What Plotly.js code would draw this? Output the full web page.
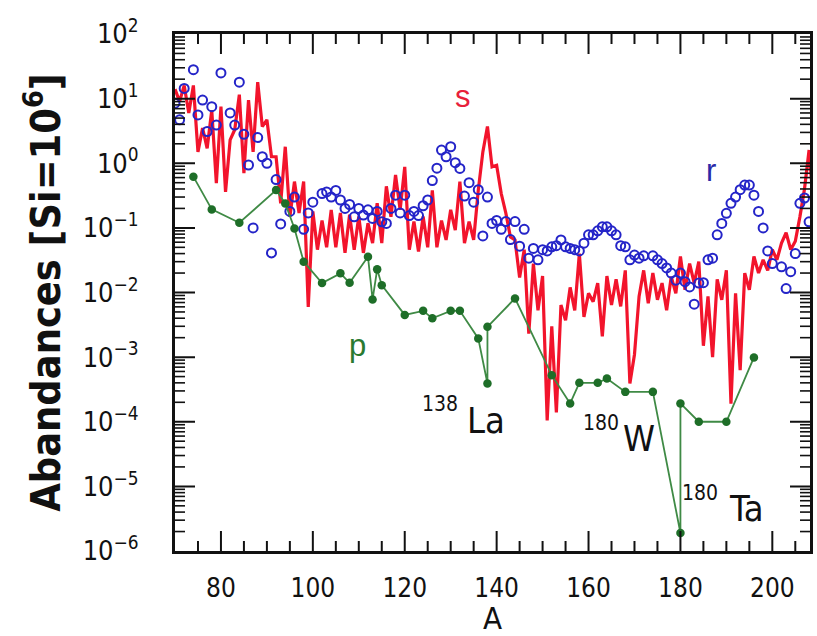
<!DOCTYPE html>
<html>
<head>
<meta charset="utf-8">
<script src="https://cdn.plot.ly/plotly-3.0.1.min.js"></script>
<style>
  html, body { margin: 0; padding: 0; background: #ffffff; }
  #chart { width: 817px; height: 636px; }
</style>
</head>
<body>
<div id="chart"></div>
<script>
// ---- s-process (red line): mass number A and abundance ----
const sA = [70,71,72,73,74,75,76,77,78,79,80,81,82,83,84,85,86,87,88,89,
            90,91,92,93,94,95,96,97,98,99,100,101,102,103,104,105,106,107,108,109,
            110,111,112,113,114,115,116,117,118,119,120,121,122,123,124,125,126,127,128,129,
            130,131,132,133,134,135,136,137,138,139,140,141,142,143,144,145,146,147,148,149,
            150,151,152,153,154,155,156,157,158,159,160,161,162,163,164,165,166,167,168,169,
            170,171,172,173,174,175,176,177,178,179,180,181,182,183,184,185,186,187,188,189,
            190,191,192,193,194,195,196,197,198,199,200,201,202,203,204,205,206,207,208,209];
const sV = [14,9,16,6,16,1.5,3.5,1.7,6.6,0.49,7.5,0.36,2.3,3.3,11.5,0.70,9.5,1.5,18,3.7,
            4.7,1.26,1.26,0.24,1.8,0.148,0.52,0.17,0.52,0.006,0.18,0.046,0.13,0.05,0.19,0.05,0.17,0.041,0.16,0.046,
            0.15,0.041,0.118,0.058,0.24,0.058,0.44,0.148,0.66,0.19,0.88,0.046,0.125,0.043,0.15,0.05,0.38,0.05,0.13,0.065,
            0.19,0.092,0.52,0.058,0.125,0.065,0.38,1.5,3.7,0.88,0.93,0.34,0.17,0.072,0.065,0.017,0.046,0.0023,0.028,0.0053,
            0.018,0.000105,0.003,0.00014,0.0064,0.0037,0.012,0.0053,0.040,0.0042,0.0097,0.0072,0.014,0.0021,0.018,0.0064,0.016,0.0061,0.022,0.00039,
            0.0011,0.0087,0.022,0.0068,0.020,0.0077,0.014,0.0053,0.0175,0.0097,0.036,0.011,0.028,0.014,0.030,0.0015,0.0087,0.001,0.016,0.0077,
            0.022,0.00019,0.0097,0.00063,0.02,0.011,0.036,0.02,0.032,0.022,0.046,0.032,0.058,0.084,0.046,0.062,0.148,0.4,1.6,0.2];

// ---- r-process (blue open circles) ----
const rA = [70,71,72,74,75,76,77,78,79,80,82,83,84,85,86,87,88,89,90,91,92,93,95,96,98,99,100,
            102,103,104,105,106,107,108,109,110,111,112,113,114,115,116,117,118,119,120,121,122,123,124,125,
            126,127,128,129,130,131,132,133,134,135,136,137,138,139,140,141,142,143,144,145,146,147,148,149,150,
            151,152,153,154,155,156,157,158,159,160,161,162,163,164,165,166,167,168,169,170,171,172,174,175,176,
            177,178,179,180,181,182,183,184,185,186,187,188,189,190,191,192,193,194,195,196,197,198,199,200,
            202,203,204,205,206,207,208];
const rV = [8.5,4.7,14.4,28,5.6,9.5,3.1,7.5,3.9,25,6.0,3.9,18,2.8,0.94,0.10,2.5,1.26,1.0,0.041,0.56,0.115,0.18,0.30,0.095,0.17,0.25,
            0.34,0.36,0.30,0.38,0.27,0.20,0.23,0.148,0.20,0.158,0.19,0.14,0.18,0.124,0.117,0.20,0.32,0.17,0.32,0.155,0.18,0.155,0.22,0.27,
            0.54,0.84,1.6,1.26,1.8,1.02,0.83,0.31,0.50,0.25,0.39,0.075,0.30,0.117,0.13,0.095,0.125,0.066,0.125,0.052,0.095,0.034,0.048,0.032,0.046,
            0.044,0.051,0.053,0.065,0.051,0.048,0.046,0.044,0.058,0.078,0.078,0.090,0.104,0.104,0.090,0.078,0.053,0.051,0.032,0.038,0.034,0.037,0.037,0.032,0.028,
            0.024,0.020,0.0155,0.020,0.0147,0.0122,0.0066,0.014,0.0142,0.032,0.034,0.078,0.117,0.168,0.24,0.30,0.39,0.46,0.46,0.32,0.18,0.10,0.044,0.028,
            0.025,0.0115,0.021,0.040,0.24,0.29,0.124];

// ---- p-process (green line + dots) ----
const pA = [74,78,84,92,94,96,98,102,106,108,112,113,114,115,120,124,126,130,132,136,138,138,
            144,152,156,158,162,164,168,174,180,180,184,190,196];
const pV = [0.62,0.193,0.12,0.385,0.239,0.098,0.030,0.014,0.0198,0.0141,0.0357,0.0078,0.0228,0.013,0.0045,0.0052,0.0040,0.0052,0.0052,0.00195,0.00039,0.00294,
            0.0081,0.000526,0.000192,0.00040,0.00040,0.000468,0.00029,0.00029,0.0000019,0.000192,0.00010,0.00010,0.00099];

// ---- axis tick labels ----
const xTickVals = [80,100,120,140,160,180,200];
const xTickText = ['80','100','120','140','160','180','200'];
const yTickVals = [1e-6,1e-5,1e-4,1e-3,1e-2,1e-1,1,10,100];
const yTickText = ['10<sup>\u22126</sup>','10<sup>\u22125</sup>','10<sup>\u22124</sup>','10<sup>\u22123</sup>',
                   '10<sup>\u22122</sup>','10<sup>\u22121</sup>','10<sup>0</sup>','10<sup>1</sup>','10<sup>2</sup>'];

const FONT = 'DejaVu Sans Condensed, Liberation Sans Narrow, Arial Narrow, sans-serif';
const XR = [70, 208.2];
const YR = [-6, 2];

// ---- inside frame ticks: line markers centred on the frame, half clipped by the plot area ----
const MAJ = 20, MIN = 10;                 // visible tick length in px
const SZ = len => len / 0.7;              // line-ns/line-ew symbol length is 1.4*size
const yLo = Math.pow(10, YR[0]), yHi = Math.pow(10, YR[1]);
const xMajT = [], xMinT = [];
for (let v = 75; v <= 205; v += 5) (v % 20 === 0 ? xMajT : xMinT).push(v);
const yMajT = [], yMinT = [];
for (let e = YR[0]; e < YR[1]; e++) {
  if (e > YR[0]) yMajT.push(Math.pow(10, e));
  for (let m = 2; m <= 9; m++) yMinT.push(m * Math.pow(10, e));
}
function xTickTrace(vals, len, w) {
  return { x: vals.concat(vals), y: vals.map(() => yLo).concat(vals.map(() => yHi)),
           type: 'scatter', mode: 'markers', cliponaxis: true, hoverinfo: 'skip',
           marker: { symbol: 'line-ns-open', size: SZ(len), color: '#111111', line: { width: w, color: '#111111' } } };
}
function yTickTrace(vals, len, w) {
  return { x: vals.map(() => XR[0]).concat(vals.map(() => XR[1])), y: vals.concat(vals),
           type: 'scatter', mode: 'markers', cliponaxis: true, hoverinfo: 'skip',
           marker: { symbol: 'line-ew-open', size: SZ(len), color: '#111111', line: { width: w, color: '#111111' } } };
}

const traces = [
  { x: sA, y: sV, type: 'scatter', mode: 'lines',
    line: { color: '#f2142c', width: 3.2 }, hoverinfo: 'skip' },
  { x: rA, y: rV, type: 'scatter', mode: 'markers',
    marker: { symbol: 'circle-open', size: 9, color: '#2424c8', line: { width: 2, color: '#2424c8' } } },
  { x: pA, y: pV, type: 'scatter', mode: 'lines+markers',
    line: { color: '#3f8a45', width: 1.8 },
    marker: { symbol: 'circle', size: 8.5, color: '#1e6e28' } },
  xTickTrace(xMinT, MIN, 2),
  xTickTrace(xMajT, MAJ, 2),
  yTickTrace(yMinT, MIN, 1.6),
  yTickTrace(yMajT, MAJ, 2)
];

function px(x) { return (x - 175) / 635; }
function py(y) { return (551 - y) / 517; }

const ann = [
  { text: 's', x: px(463), y: py(96), font: { size: 31, color: '#e8203a', family: 'Liberation Sans, Arial, sans-serif' } },
  { text: 'r', x: px(711), y: py(170), font: { size: 31, color: '#2a2aa8', family: 'Liberation Sans, Arial, sans-serif' } },
  { text: 'p', x: px(357), y: py(345), font: { size: 31, color: '#2a7a30', family: 'Liberation Sans, Arial, sans-serif' } },
  { text: '138', x: px(440), y: py(404), font: { size: 21, color: '#111', family: FONT } },
  { text: 'La', x: px(486), y: py(420), font: { size: 36, color: '#111', family: FONT } },
  { text: '180', x: px(601), y: py(423), font: { size: 21, color: '#111', family: FONT } },
  { text: 'W', x: px(639), y: py(438), font: { size: 36, color: '#111', family: FONT } },
  { text: '180', x: px(700), y: py(493), font: { size: 21, color: '#111', family: FONT } },
  { text: 'Ta', x: px(746), y: py(508), font: { size: 36, color: '#111', family: FONT } }
].map(a => Object.assign({ xref: 'paper', yref: 'paper', showarrow: false, xanchor: 'center', yanchor: 'middle' }, a));

const layout = {
  width: 817, height: 636,
  margin: { l: 175, r: 7, t: 34, b: 85 },
  paper_bgcolor: '#ffffff', plot_bgcolor: '#ffffff',
  showlegend: false,
  font: { family: FONT, color: '#111' },
  xaxis: {
    range: XR, showgrid: false, zeroline: false,
    showline: true, linecolor: '#111111', linewidth: 3, mirror: true,
    ticks: '', tickmode: 'array', tickvals: xTickVals, ticktext: xTickText,
    tickfont: { size: 26, family: FONT, color: '#111' },
    ticklabelstandoff: 12,
    title: { text: 'A', font: { size: 31, family: FONT, color: '#111' }, standoff: 12 }
  },
  yaxis: {
    type: 'log', range: YR, showgrid: false, zeroline: false,
    showline: true, linecolor: '#111111', linewidth: 3, mirror: true,
    ticks: '', tickmode: 'array', tickvals: yTickVals, ticktext: yTickText,
    tickfont: { size: 27, family: FONT, color: '#111' },
    ticklabelstandoff: 28,
    title: { text: '<b>Abandances [Si=10<sup>6</sup>]</b>', font: { size: 41, family: FONT, color: '#111' }, standoff: 10 }
  },
  annotations: ann
};

Plotly.newPlot('chart', traces, layout, { displayModeBar: false, staticPlot: true });
</script>
</body>
</html>
